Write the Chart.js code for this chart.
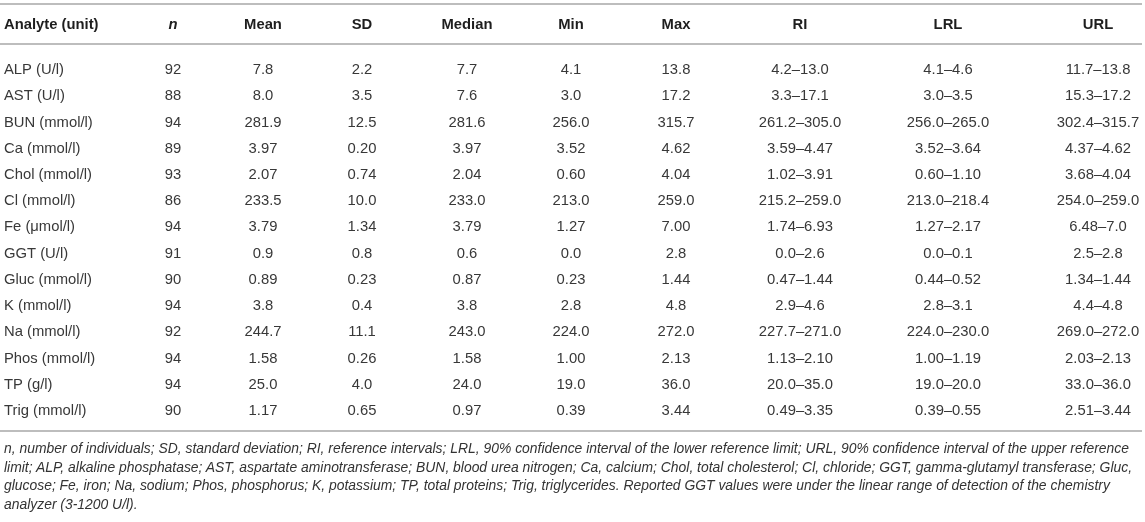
<!DOCTYPE html>
<html>
<head>
<meta charset="utf-8">
<script src="https://cdn.jsdelivr.net/npm/chart.js@4.4.1/dist/chart.umd.min.js"></script>
<style>
  body { margin: 0; background: #fff; }
  #wrap { position: relative; width: 1145px; height: 522px; }
  #note {
    position: absolute; left: 4px; top: 439px; width: 1140px;
    font: italic 13.9px "Liberation Sans", Arial, sans-serif;
    line-height: 18.7px; color: #333; white-space: nowrap;
  }
</style>
</head>
<body>
<div id="wrap">
  <canvas id="tableChart" width="1145" height="440"></canvas>
  <div id="note">n, number of individuals; SD, standard deviation; RI, reference intervals; LRL, 90% confidence interval of the lower reference limit; URL, 90% confidence interval of the upper reference<br>limit; ALP, alkaline phosphatase; AST, aspartate aminotransferase; BUN, blood urea nitrogen; Ca, calcium; Chol, total cholesterol; Cl, chloride; GGT, gamma-glutamyl transferase; Gluc,<br>glucose; Fe, iron; Na, sodium; Phos, phosphorus; K, potassium; TP, total proteins; Trig, triglycerides. Reported GGT values were under the linear range of detection of the chemistry<br>analyzer (3-1200 U/l).</div>
</div>
<script>
const headers = ['Analyte (unit)', 'n', 'Mean', 'SD', 'Median', 'Min', 'Max', 'RI', 'LRL', 'URL'];
const analytes = ['ALP (U/l)', 'AST (U/l)', 'BUN (mmol/l)', 'Ca (mmol/l)', 'Chol (mmol/l)', 'Cl (mmol/l)',
  'Fe (\u03bcmol/l)', 'GGT (U/l)', 'Gluc (mmol/l)', 'K (mmol/l)', 'Na (mmol/l)', 'Phos (mmol/l)', 'TP (g/l)', 'Trig (mmol/l)'];
const nValues = [92, 88, 94, 89, 93, 86, 94, 91, 90, 94, 92, 94, 94, 90];
const means = [7.8, 8.0, 281.9, 3.97, 2.07, 233.5, 3.79, 0.9, 0.89, 3.8, 244.7, 1.58, 25.0, 1.17];
const sds = [2.2, 3.5, 12.5, 0.20, 0.74, 10.0, 1.34, 0.8, 0.23, 0.4, 11.1, 0.26, 4.0, 0.65];
const medians = [7.7, 7.6, 281.6, 3.97, 2.04, 233.0, 3.79, 0.6, 0.87, 3.8, 243.0, 1.58, 24.0, 0.97];
const mins = [4.1, 3.0, 256.0, 3.52, 0.60, 213.0, 1.27, 0.0, 0.23, 2.8, 224.0, 1.00, 19.0, 0.39];
const maxs = [13.8, 17.2, 315.7, 4.62, 4.04, 259.0, 7.00, 2.8, 1.44, 4.8, 272.0, 2.13, 36.0, 3.44];
const decimals = [1, 1, 1, 2, 2, 1, 2, 1, 2, 1, 1, 2, 1, 2];
const riRanges = ['4.2–13.0', '3.3–17.1', '261.2–305.0', '3.59–4.47', '1.02–3.91', '215.2–259.0', '1.74–6.93',
  '0.0–2.6', '0.47–1.44', '2.9–4.6', '227.7–271.0', '1.13–2.10', '20.0–35.0', '0.49–3.35'];
const lrlRanges = ['4.1–4.6', '3.0–3.5', '256.0–265.0', '3.52–3.64', '0.60–1.10', '213.0–218.4', '1.27–2.17',
  '0.0–0.1', '0.44–0.52', '2.8–3.1', '224.0–230.0', '1.00–1.19', '19.0–20.0', '0.39–0.55'];
const urlRanges = ['11.7–13.8', '15.3–17.2', '302.4–315.7', '4.37–4.62', '3.68–4.04', '254.0–259.0', '6.48–7.0',
  '2.5–2.8', '1.34–1.44', '4.4–4.8', '269.0–272.0', '2.03–2.13', '33.0–36.0', '2.51–3.44'];

// column anchors on the x scale (0..1145)
const colX = [4, 173, 263, 362, 467, 571, 676, 800, 948, 1098];
const FONT = '"Liberation Sans", Arial, sans-serif';

const fmt = arr => arr.map((v, i) => v.toFixed(decimals[i]));
const columnTexts = [
  analytes,
  nValues.map(String),
  fmt(means), fmt(sds), fmt(medians), fmt(mins), fmt(maxs),
  riRanges, lrlRanges, urlRanges
];

const tableText = {
  id: 'tableText',
  afterDatasetsDraw(chart) {
    const { ctx, scales: { x, y } } = chart;
    ctx.save();
    ctx.strokeStyle = '#bdbdbd';
    ctx.lineWidth = 2;
    const rule = py => { ctx.beginPath(); ctx.moveTo(x.left, py); ctx.lineTo(x.right - 3, py); ctx.stroke(); };
    const headTop = 4, headBottom = y.top - 13;
    rule(headTop);
    rule(headBottom);
    rule(y.bottom + 7);

    ctx.textBaseline = 'middle';
    ctx.fillStyle = '#1e1e1e';
    headers.forEach((h, c) => {
      ctx.font = (c === 1 ? 'italic ' : '') + 'bold 14.8px ' + FONT;
      ctx.textAlign = c === 0 ? 'left' : 'center';
      ctx.fillText(h, x.getPixelForValue(colX[c]), (headTop + headBottom) / 2 + 1);
    });

    ctx.font = '14.8px ' + FONT;
    ctx.fillStyle = '#383838';
    chart.data.datasets.forEach((ds, di) => {
      const meta = chart.getDatasetMeta(di);
      ctx.textAlign = ds.align;
      meta.data.forEach((pt, i) => ctx.fillText(ds.texts[i], pt.x, pt.y));
    });
    ctx.restore();
  }
};

new Chart(document.getElementById('tableChart'), {
  type: 'scatter',
  data: {
    datasets: columnTexts.map((texts, c) => ({
      label: headers[c],
      texts: texts,
      align: c === 0 ? 'left' : 'center',
      data: analytes.map(a => ({ x: colX[c], y: a })),
      pointRadius: 0,
      pointHoverRadius: 0
    }))
  },
  options: {
    responsive: false,
    animation: false,
    events: [],
    layout: { padding: { top: 57, bottom: 16, left: 0, right: 0 } },
    plugins: { legend: { display: false }, tooltip: { enabled: false } },
    scales: {
      x: { type: 'linear', min: 0, max: 1145, display: false },
      y: { type: 'category', labels: analytes, offset: true, display: false }
    }
  },
  plugins: [tableText]
});
</script>
</body>
</html>
